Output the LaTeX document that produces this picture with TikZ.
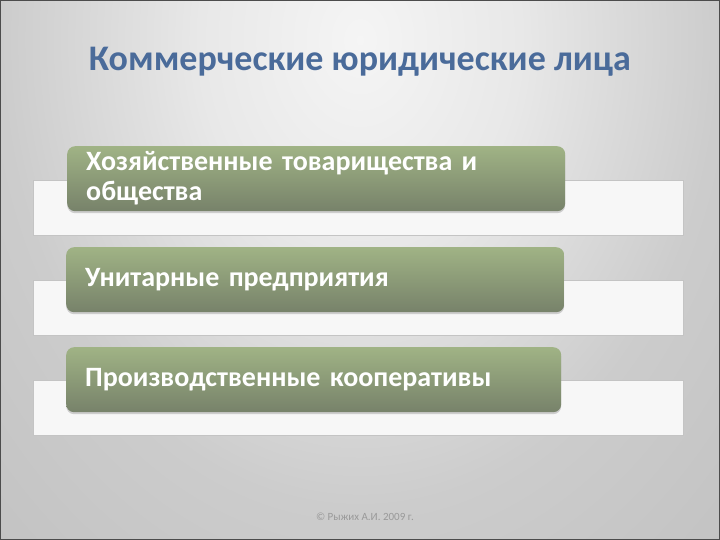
\documentclass[tikz,border=0pt]{standalone}
\usepackage{fontspec}
\setmainfont{Carlito}
\usetikzlibrary{shadows}

\definecolor{titleblue}{HTML}{4A6B9A}
\definecolor{sagetop}{HTML}{A0B385}
\definecolor{sagebottom}{HTML}{77826A}
\definecolor{stripline}{HTML}{C4C4C4}
\definecolor{footgray}{HTML}{999999}

% slide background, light near the title
\pgfdeclareradialshading{slideshade}{\pgfpoint{0bp}{0bp}}{%
  color(0bp)=(white!96!black); color(8bp)=(white!91!black);
  color(18bp)=(white!80!black); color(30bp)=(white!75!black);
  color(36bp)=(white!72!black); color(39bp)=(white!68!black);
  color(42bp)=(white!65!black); color(53bp)=(white!56!black)}

\tikzset{
  strip/.style={fill=white!97!black, draw=stripline, line width=0.8pt},
  greenbox/.style={rectangle, rounded corners=8pt, top color=sagetop,
    bottom color=sagebottom, draw=none, anchor=north west,
    minimum height=65pt, inner xsep=19pt, align=left,
    text=white, font=\fontsize{28}{30}\selectfont\bfseries,
    drop shadow={opacity=0.35, shadow xshift=0pt, shadow yshift=-2pt}},
}

\begin{document}
\begin{tikzpicture}[x=1pt, y=-1pt]
    \useasboundingbox (0,0) rectangle (720,540);

    % Background
    \begin{scope}
        \clip (0,0) rectangle (720,540);
        \shade[shading=slideshade] (-140,-610) rectangle (860,690);
    \end{scope}
    \draw[black!70, line width=1.5pt] (0,0) rectangle (720,540); % frame

    % Title
    \node[text=titleblue, font=\fontsize{36}{40}\selectfont\bfseries]
        (title) at (360,62) {Коммерческие юридические лица};

    % White strips behind the boxes
    \foreach \y in {180,280,380}
        \draw[strip] (33,\y) rectangle (683,\y+55);

    % Green boxes
    \node[greenbox, text width=460pt] (partners) at (67,146)
        {Хозяйственные товарищества и\\общества};
    \node[greenbox, text width=460pt] (unitary) at (66,247)
        {Унитарные предприятия};
    \node[greenbox, text width=457pt] (coops) at (66,347)
        {Производственные кооперативы};

    % Footer
    \node[text=footgray, font=\fontsize{11}{13}\selectfont]
        (footer) at (365,517) {© Рыжих А.И. 2009 г.};
\end{tikzpicture}
\end{document}
